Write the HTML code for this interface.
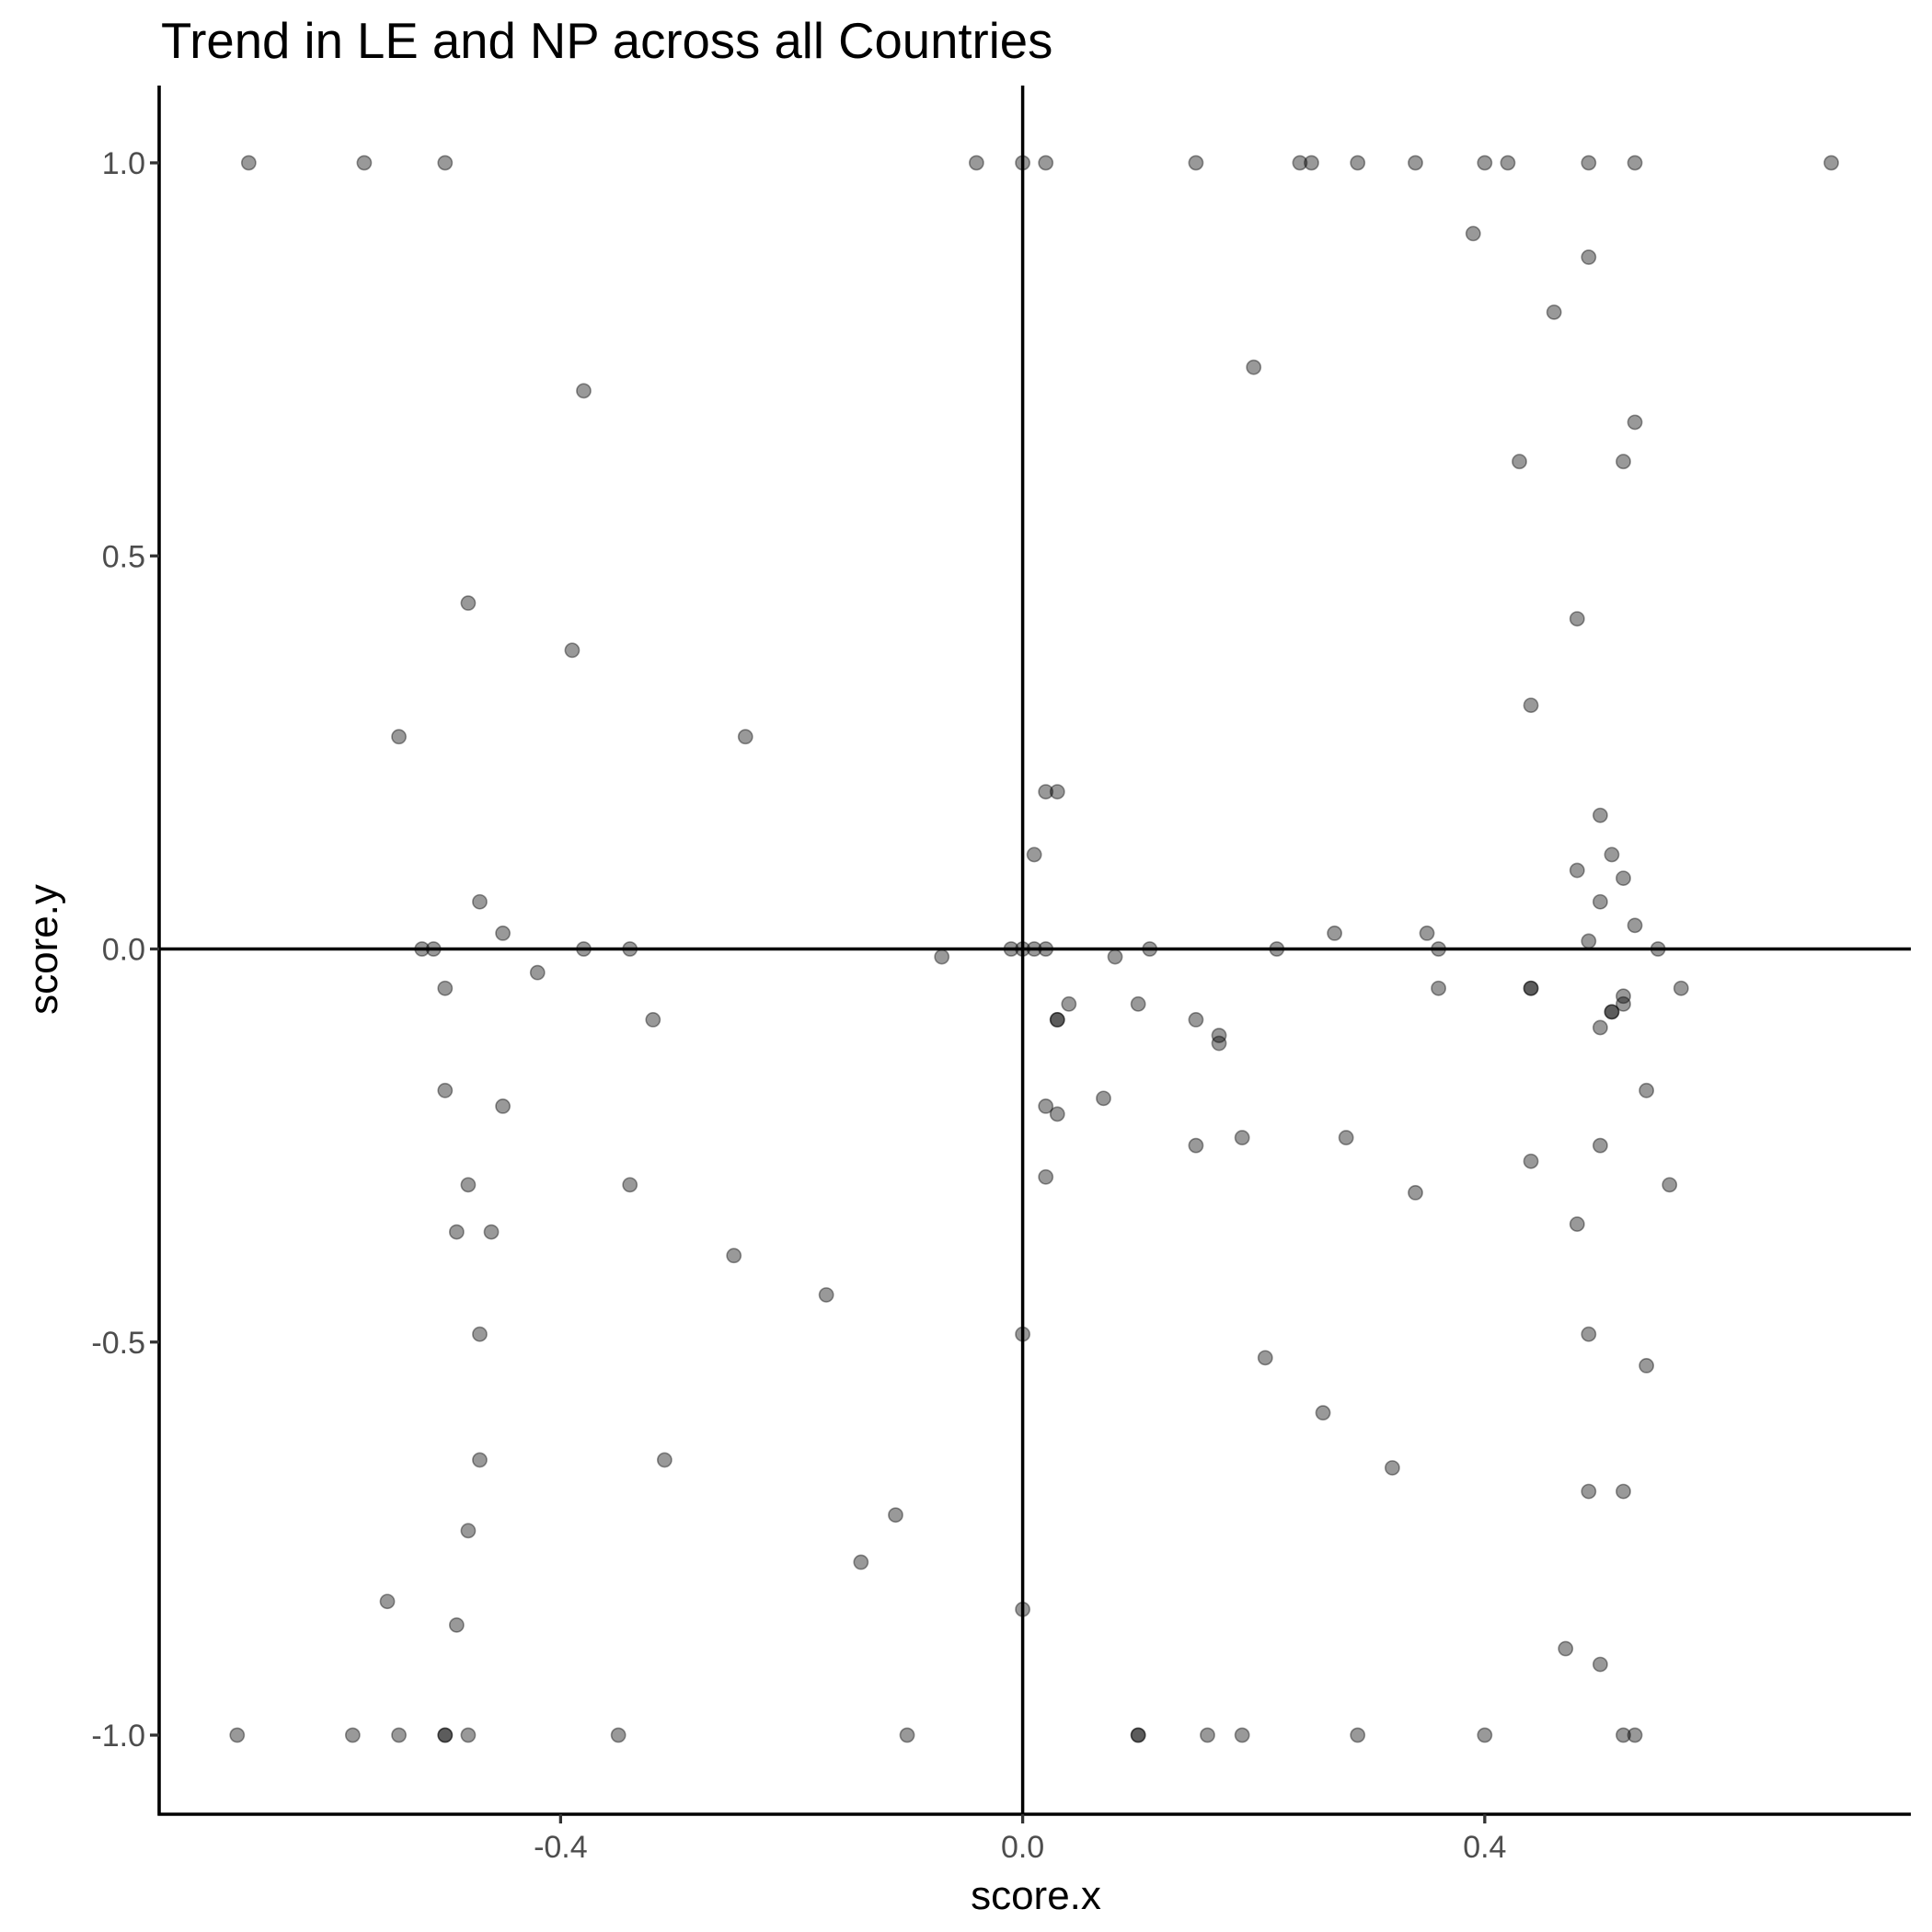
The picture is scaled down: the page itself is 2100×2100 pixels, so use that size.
<!DOCTYPE html>
<html><head><meta charset="utf-8"><style>
html,body{margin:0;padding:0;background:#fff;}
svg{display:block;font-family:"Liberation Sans",Arial,sans-serif;}
</style></head><body>
<svg id="chart" width="2100" height="2100" viewBox="0 0 2100 2100">
<text x="175" y="63" font-size="54.5" fill="#000">Trend in LE and NP across all Countries</text>
<g id="marks"></g>
<g id="axes"></g>
<text x="1126" y="2075" font-size="44" text-anchor="middle" fill="#000">score.x</text>
<text transform="translate(62,1032) rotate(-90)" font-size="44" text-anchor="middle" fill="#000">score.y</text>
</svg>
<script>
const xVals = [-0.67,-0.57,-0.5,-0.04,0,0.02,0.15,0.24,0.25,0.29,0.34,0.4,0.42,0.49,0.53,0.7,
 -0.68,-0.58,-0.54,-0.5,-0.5,-0.48,-0.35,-0.1,0.1,0.1,0.16,0.19,0.29,0.4,0.52,0.53,
 0.39,0.49,0.46,0.2,-0.38,0.53,0.43,0.52,-0.48,0.48,-0.39,0.44,-0.54,-0.24,0.02,0.03,0.5,0.01,0.51,0.48,0.52,-0.47,0.5,0.53,-0.45,0.27,0.35,0.49,
 -0.52,-0.51,-0.38,-0.34,-0.01,0,0.01,0.02,0.11,0.22,0.36,0.55,
 -0.07,0.08,-0.42,-0.5,0.44,0.44,0.36,0.57,0.52,0.52,0.04,0.1,0.51,0.51,-0.32,0.03,0.03,0.15,0.5,0.17,0.17,
 -0.5,0.54,0.07,-0.45,0.02,0.03,0.19,0.28,0.15,0.5,0.44,0.02,-0.48,-0.34,0.56,0.34,0.48,-0.49,-0.46,-0.25,-0.17,
 -0.47,0,0.49,0.21,0.54,0.26,-0.47,-0.31,0.32,-0.11,0.49,0.52,-0.48,-0.14,-0.55,0,-0.49,0.47,0.5];
const yVals = [1,1,1,1,1,1,1,1,1,1,1,1,1,1,1,1,
 -1,-1,-1,-1,-1,-1,-1,-1,-1,-1,-1,-1,-1,-1,-1,-1,
 0.91,0.88,0.81,0.74,0.71,0.67,0.62,0.62,0.44,0.42,0.38,0.31,0.27,0.27,0.2,0.2,0.17,0.12,0.12,0.1,0.09,0.06,0.06,0.03,0.02,0.02,0.02,0.01,
 0,0,0,0,0,0,0,0,0,0,0,0,
 -0.01,-0.01,-0.03,-0.05,-0.05,-0.05,-0.05,-0.05,-0.06,-0.07,-0.07,-0.07,-0.08,-0.08,-0.09,-0.09,-0.09,-0.09,-0.1,-0.11,-0.12,
 -0.18,-0.18,-0.19,-0.2,-0.2,-0.21,-0.24,-0.24,-0.25,-0.25,-0.27,-0.29,-0.3,-0.3,-0.3,-0.31,-0.35,-0.36,-0.36,-0.39,-0.44,
 -0.49,-0.49,-0.49,-0.52,-0.53,-0.59,-0.65,-0.65,-0.66,-0.72,-0.69,-0.69,-0.74,-0.78,-0.83,-0.84,-0.86,-0.89,-0.91];
const xTicks = [-0.4,0.0,0.4];
const xTickLabels = ["-0.4","0.0","0.4"];
const yTicks = [-1.0,-0.5,0.0,0.5,1.0];
const yTickLabels = ["-1.0","-0.5","0.0","0.5","1.0"];

const L=173,R=2077,T=93,B=1972;
function sx(v){return 1111.6+v*1255.6;}
function sy(v){return 1031.5-v*854.5;}
const NS="http://www.w3.org/2000/svg";
const marks=document.getElementById('marks');
const axes=document.getElementById('axes');
function mk(tag,attrs,parent){const e=document.createElementNS(NS,tag);for(const k in attrs)e.setAttribute(k,attrs[k]);parent.appendChild(e);return e;}

for(let i=0;i<xVals.length;i++){
  const c=mk('circle',{cx:sx(xVals[i]),cy:sy(yVals[i]),r:7.6,fill:'rgba(0,0,0,0.4)',stroke:'rgba(0,0,0,0.4)','stroke-width':1.6},marks);
  
  
}
let h=mk('line',{x1:L,x2:R,y1:sy(0),y2:sy(0),stroke:'#000','stroke-width':3.5},axes);


let v=mk('line',{x1:sx(0),x2:sx(0),y1:T,y2:B,stroke:'#000','stroke-width':3.5},axes);


let ax=mk('line',{x1:L-1.5,x2:R,y1:B,y2:B,stroke:'#000','stroke-width':3.6},axes);


let ay=mk('line',{x1:L,x2:L,y1:T,y2:B+1.5,stroke:'#000','stroke-width':3.6},axes);


xTicks.forEach((t,i)=>{
  const tk=mk('line',{x1:sx(t),x2:sx(t),y1:B,y2:B+10,stroke:'#333','stroke-width':3.3},axes);
  
  
  const tx=mk('text',{x:sx(t),y:2019,'font-size':34,'text-anchor':'middle',fill:'#4d4d4d'},axes);
  tx.textContent=xTickLabels[i];
  
  
});
yTicks.forEach((t,i)=>{
  const tk=mk('line',{x1:L-10,x2:L,y1:sy(t),y2:sy(t),stroke:'#333','stroke-width':3.3},axes);
  
  
  const tx=mk('text',{x:L-15,y:sy(t)+12,'font-size':34,'text-anchor':'end',fill:'#4d4d4d'},axes);
  tx.textContent=yTickLabels[i];
  
  
});
</script>
</body></html>
